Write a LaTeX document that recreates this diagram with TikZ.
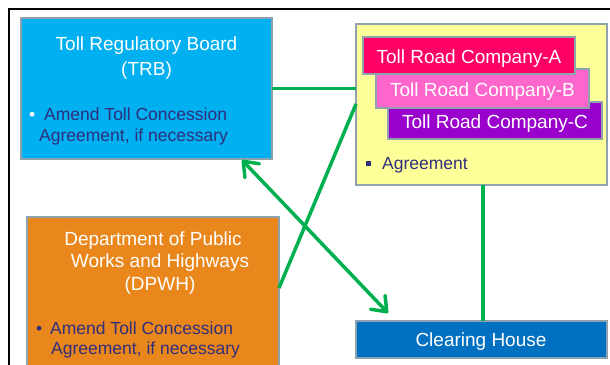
\documentclass[tikz,border=0pt]{standalone}
\usepackage{fontspec}
\setmainfont{Liberation Sans}
\usetikzlibrary{arrows.meta,calc}

\definecolor{trbblue}{HTML}{00B0F0}
\definecolor{dpwhorange}{HTML}{E9871C}
\definecolor{paleyellow}{HTML}{FFFF99}
\definecolor{companya}{HTML}{FF0066}
\definecolor{companyb}{HTML}{FF66CC}
\definecolor{companyc}{HTML}{9900CC}
\definecolor{clearblue}{HTML}{0070C0}
\definecolor{boxedge}{HTML}{8FA3AE}
\definecolor{linkgreen}{HTML}{00B050}
\definecolor{navy}{HTML}{302F7C}

\begin{document}
\begin{tikzpicture}[x=1pt,y=-1pt,
  box/.style={draw=boxedge, line width=1.5pt, inner sep=0pt, outer sep=0pt, anchor=north west},
  title/.style={text=white, font=\fontsize{19}{25}\selectfont, inner sep=0pt, anchor=base},
  item/.style={text=navy, font=\fontsize{17.5}{21}\selectfont, inner sep=0pt, anchor=base west},
  link/.style={draw=linkgreen, line width=3.5pt},
  barbs/.style={{Straight Barb[length=13pt,width=20pt,round]}-{Straight Barb[length=13pt,width=20pt,round]}},
]
\useasboundingbox (0,0) rectangle (610,364);
\clip (0,0) rectangle (610,364);

% outer frame (runs past the right and bottom edges)
\draw[line width=2.5pt] (9,9) rectangle (640,400);

% boxes
\node[box, fill=trbblue, minimum width=251pt, minimum height=141pt] (trb) at (21,18) {};
\node[box, fill=paleyellow, minimum width=251pt, minimum height=161pt] (yellow) at (356,24) {};
\node[box, fill=companyc, minimum width=214pt, minimum height=37pt] (compc) at (388,102) {};
\node[box, fill=companyb, minimum width=213pt, minimum height=39pt] (compb) at (376,69) {};
\node[box, fill=companya, minimum width=212pt, minimum height=37pt] (compa) at (363,37) {};
\node[box, fill=clearblue, minimum width=251pt, minimum height=37pt] (clearing) at (356,321) {};
\node[box, fill=dpwhorange, minimum width=252pt, minimum height=170pt] (dpwh) at (27,217) {};

% TRB text
\node[title] (trbt1) at (146.5,50.6) {Toll Regulatory Board};
\node[title] (trbt2) at (146.5,75.6) {(TRB)};
\node[item, text=white] (trbb) at (29,120) {•};
\node[item] (trbi1) at (44,120) {Amend Toll Concession};
\node[item] (trbi2) at (39,141.5) {Agreement, if necessary};

% companies
\node[title] (cat) at (469,63) {Toll Road Company-A};
\node[title] (cbt) at (482.5,96.6) {Toll Road Company-B};
\node[title] (cct) at (495,128) {Toll Road Company-C};
\fill[navy] (366,161) rectangle (370.5,165.5);
\node[item] (agr) at (382,169.5) {Agreement};

% clearing house
\node[title] (cht) at (481,346.7) {Clearing House};

% DPWH text
\node[title] (dt1) at (153,245.3) {Department of Public};
\node[title] (dt2) at (160,267.6) {Works and Highways};
\node[title] (dt3) at (160,290.3) {(DPWH)};
\node[item] (db) at (36,334) {•};
\node[item] (di1) at (50,334) {Amend Toll Concession};
\node[item] (di2) at (51,354.5) {Agreement, if necessary};

% connectors
\coordinate (dpwhport) at ($(dpwh.north east)+(0,71)$);
\coordinate (yport) at ($(yellow.north west)+(0,80)$);
\coordinate (trbtip) at ($(trb.south west)+(221,1)$);
\coordinate (chtip) at ($(clearing.north west)+(32,-8)$);
\coordinate (ydrop) at ($(yellow.south)+(1.5,0)$);

\draw[link] (trb.east) -- (trb.east -| yellow.west);
\draw[link] (dpwhport) -- (yport);
\draw[link, barbs] (trbtip) -- (chtip);
\draw[link] (ydrop) -- (ydrop |- clearing.north);
\end{tikzpicture}
\end{document}
